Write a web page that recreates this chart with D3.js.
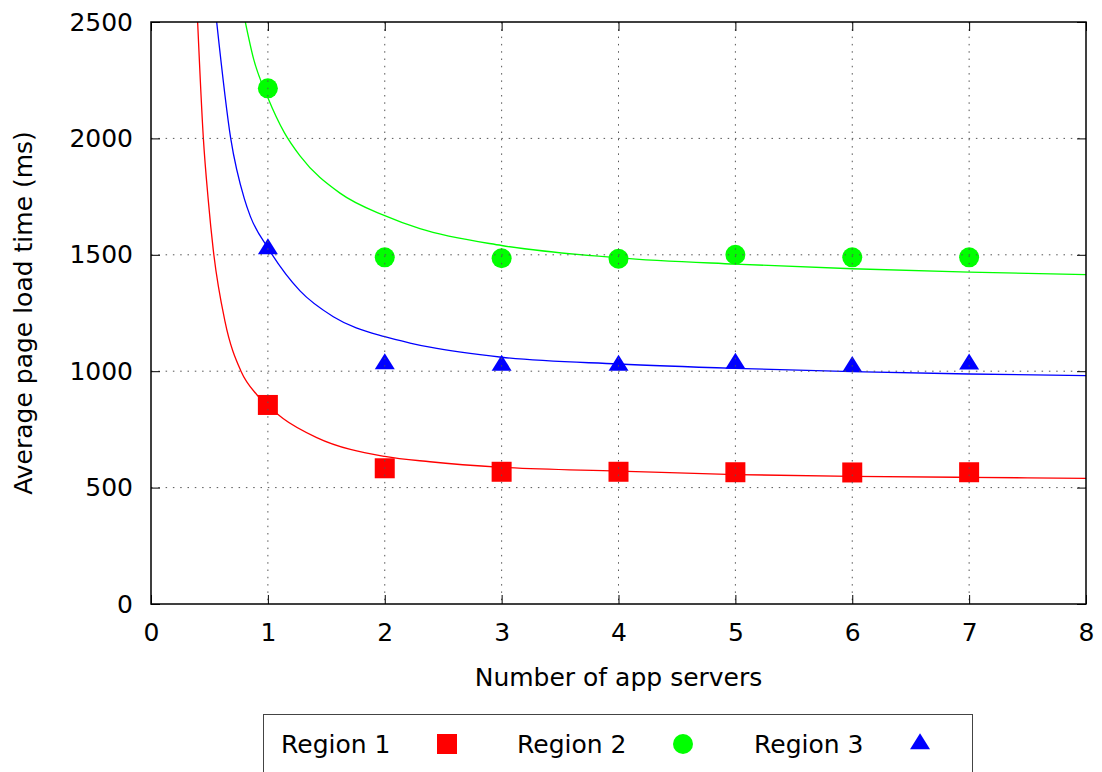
<!DOCTYPE html>
<html>
<head>
<meta charset="utf-8">
<script src="https://cdn.jsdelivr.net/npm/d3@7"></script>
<style>
  html, body { margin: 0; padding: 0; background: #fff; }
  svg { display: block; }
  text { font-family: "DejaVu Sans", sans-serif; fill: #000; }
</style>
</head>
<body>
<script>
// ---- data ----
const xTicks = [0, 1, 2, 3, 4, 5, 6, 7, 8];
const yTicks = [0, 500, 1000, 1500, 2000, 2500];
const servers = [1, 2, 3, 4, 5, 6, 7];
const seriesNames = ["Region 1", "Region 2", "Region 3"];
const region1 = [855, 583, 568, 568, 566, 565, 566];
const region2 = [2215, 1489, 1485, 1483, 1500, 1489, 1489];
const region3 = [1525, 1031, 1025, 1025, 1033, 1019, 1030];
// fitted curves as [x, y]
const fit1 = [[0.399, 2500], [0.448, 2000], [0.49, 1735], [0.533, 1520], [0.633, 1214], [0.77, 1000], [0.904, 900], [1, 852], [1.13, 797], [1.418, 715], [2, 634], [2.387, 611], [3, 587], [4, 571], [5, 556], [6, 548], [7, 544], [8, 540]];
const fit2 = [[0.807, 2500], [0.876, 2345], [1, 2175], [1.141, 2025], [1.275, 1925], [1.617, 1765], [2, 1668], [2.301, 1612], [3, 1540], [4, 1487], [5, 1460], [6, 1440], [7, 1426], [8, 1415]];
const fit3 = [[0.562, 2500], [0.682, 2000], [0.799, 1740], [0.85, 1665], [1, 1530], [1.275, 1345], [1.56, 1234], [2, 1148], [2.216, 1121], [2.387, 1103], [3, 1060], [4, 1031], [5, 1012], [6, 998], [7, 988], [8, 981]];
const colors = ["#ff0000", "#00ff00", "#0000ff"];

const W = 1102, H = 772;
const L = 151, R = 1086, T = 22, B = 604;
const FS = "25px";

const svg = d3.select("body").append("svg").attr("width", W).attr("height", H);
const x = d3.scaleLinear().domain([0, 8]).range([L, R]);
const y = d3.scaleLinear().domain([0, 2500]).range([B, T]);

svg.append("defs").append("clipPath").attr("id", "clip")
  .append("rect").attr("x", L).attr("y", T).attr("width", R - L).attr("height", B - T);

// curves
const line = d3.line().x(d => x(d[0])).y(d => y(d[1])).curve(d3.curveMonotoneX);
const curves = svg.append("g").attr("clip-path", "url(#clip)");
[fit1, fit2, fit3].forEach((f, i) => {
  curves.append("path").attr("d", line(f)).attr("fill", "none")
    .attr("stroke", colors[i]).attr("stroke-width", 1.3);
});

// markers
const sq = 20, cr = 10, tw = 10, th = 16;
function drawSquare(g, cx, cy, c) {
  g.append("rect").attr("x", cx - sq / 2).attr("y", cy - sq / 2).attr("width", sq).attr("height", sq).attr("fill", c);
}
function drawCircle(g, cx, cy, c) {
  g.append("circle").attr("cx", cx).attr("cy", cy).attr("r", cr).attr("fill", c);
}
function drawTri(g, cx, cy, c) {
  const top = cy - th * 2 / 3, bot = cy + th / 3;
  g.append("path").attr("d", `M${cx},${top}L${cx + tw},${bot}L${cx - tw},${bot}Z`).attr("fill", c);
}
const marks = svg.append("g");
servers.forEach((s, i) => drawSquare(marks, x(s), y(region1[i]), colors[0]));
servers.forEach((s, i) => drawCircle(marks, x(s), y(region2[i]), colors[1]));
servers.forEach((s, i) => drawTri(marks, x(s), y(region3[i]), colors[2]));

// grid (in front, as in the original)
const grid = svg.append("g").attr("stroke", "#555").attr("stroke-width", 1).attr("stroke-dasharray", "1.5,5.8");
xTicks.filter(t => t > 0 && t < 8).forEach(t => {
  grid.append("line").attr("x1", x(t)).attr("x2", x(t)).attr("y1", T).attr("y2", B);
});
yTicks.filter(t => t > 0 && t < 2500).forEach(t => {
  grid.append("line").attr("x1", L).attr("x2", R).attr("y1", y(t)).attr("y2", y(t));
});

// axes
const tl = 9;
const xAxisB = d3.axisBottom(x).tickValues(xTicks).tickSize(-tl).tickFormat(d3.format("d"));
const xAxisT = d3.axisTop(x).tickValues(xTicks).tickSize(-tl).tickFormat("");
const yAxisL = d3.axisLeft(y).tickValues(yTicks).tickSize(-tl).tickFormat(d3.format("d"));
const yAxisR = d3.axisRight(y).tickValues(yTicks).tickSize(-tl).tickFormat("");

function style(g) {
  g.select(".domain").remove();
  g.selectAll(".tick line").attr("stroke", "#000").attr("stroke-width", 1);
  g.selectAll("text").style("font-family", "DejaVu Sans, sans-serif").style("font-size", FS).attr("fill", "#000");
}
svg.append("g").attr("transform", `translate(0,${B})`).call(xAxisB).call(style)
  .selectAll("text").attr("dy", null).attr("y", 37);
svg.append("g").attr("transform", `translate(0,${T})`).call(xAxisT).call(style);
svg.append("g").attr("transform", `translate(${L},0)`).call(yAxisL).call(style)
  .selectAll("text").attr("dy", "0.32em").attr("x", -18);
svg.append("g").attr("transform", `translate(${R},0)`).call(yAxisR).call(style);

// border
svg.append("rect").attr("x", L).attr("y", T).attr("width", R - L).attr("height", B - T)
  .attr("fill", "none").attr("stroke", "#000").attr("stroke-width", 1.5);

// axis titles
svg.append("text").attr("x", (L + R) / 2).attr("y", 686).attr("text-anchor", "middle")
  .style("font-size", FS).text("Number of app servers");
svg.append("text").attr("transform", `translate(32,${(T + B) / 2}) rotate(-90)`).attr("text-anchor", "middle")
  .style("font-size", FS).text("Average page load time (ms)");

// legend
const lg = svg.append("g");
lg.append("rect").attr("x", 263.5).attr("y", 714.5).attr("width", 709).attr("height", 80)
  .attr("fill", "#fff").attr("stroke", "#444").attr("stroke-width", 1);
const legX = [281, 517, 754];
const markX = [447, 683, 920];
const drawers = [drawSquare, drawCircle, drawTri];
seriesNames.forEach((n, i) => {
  lg.append("text").attr("x", legX[i]).attr("y", 753).style("font-size", FS).text(n);
  drawers[i](lg, markX[i], 744, colors[i]);
});
</script>
</body>
</html>
